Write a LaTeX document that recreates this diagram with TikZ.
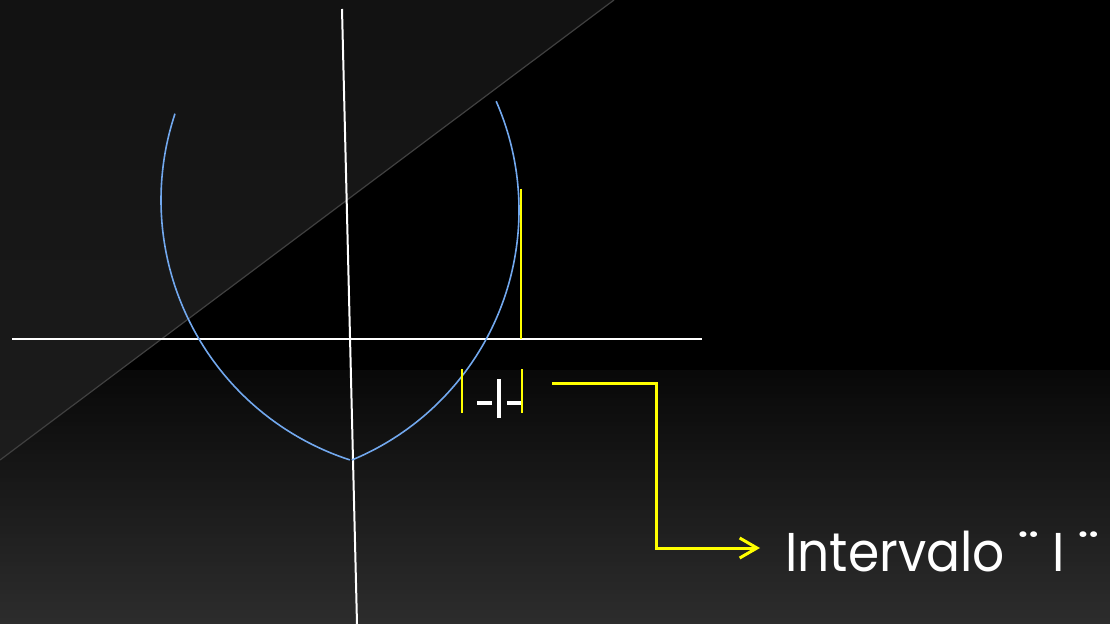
\documentclass[tikz,border=0pt]{standalone}
\usepackage{fontspec}
\setmainfont{Poppins}
\usetikzlibrary{arrows.meta}
\definecolor{curveblue}{HTML}{72A8EE}
\definecolor{ylw}{HTML}{FFFF00}
\definecolor{edge}{HTML}{404040}
\definecolor{bandc}{RGB}{0,0,0}
\newcommand{\widedia}{\scalebox{1.3}[1]{¨}}
\tikzset{
  px/.style={line width=#1*0.75pt},
  label/.style={white, font=\fontsize{41}{48}\selectfont, inner sep=0pt, anchor=base west},
}
\begin{document}
\begin{tikzpicture}[x=0.75pt,y=-0.75pt]
% background
\useasboundingbox (0,0) rectangle (1110,624);
\fill[black] (0,0) rectangle (1110,624);
\foreach \i in {0,...,63}{
  \pgfmathtruncatemacro{\g}{9+36*\i/63}
  \definecolor{bandc}{RGB}{\g,\g,\g}
  \fill[bandc] (0,370+4*\i) rectangle (1110,374.5+4*\i);
}
\begin{scope}
\clip (0,0) -- (614,0) -- (0,460) -- cycle;
\foreach \i in {0,...,46}{
  \pgfmathtruncatemacro{\g}{18+11*\i/46}
  \definecolor{bandc}{RGB}{\g,\g,\g}
  \fill[bandc] (0,10*\i) rectangle (614,10.5+10*\i);
}
\end{scope}
\draw[edge, px=1.2] (0,460) -- (614,0);
% axes
\coordinate (vtop) at (342,9);
\coordinate (vbot) at (357,624);
\coordinate (hl) at (12,339);
\coordinate (hr) at (702,339);
\draw[px=2, white] (vtop) -- (vbot);
\draw[px=2, white] (hl) -- (hr);
% curve (two circular arcs meeting at a cusp)
\draw[curveblue, px=1.6] plot[domain=198.4:108, samples=90, smooth] ({434.3+273.3*cos(\x)},{200+273.3*sin(\x)});
\draw[curveblue, px=1.6] plot[domain=-23.7:67.5, samples=90, smooth] ({248.4+270.6*cos(\x)},{210+270.6*sin(\x)});
% yellow vertical
\draw[ylw, px=2] (521,189) -- (521,339);
% interval marks
\draw[ylw, px=2] (462,369) -- (462,413);
\draw[ylw, px=2] (522,369) -- (522,413);
\draw[white, px=4] (477,403) -- (492,403);
\draw[white, px=4] (507,403) -- (521,403);
\draw[white, px=4] (499,379) -- (499,418);
% label and connector
\node[label] (lab) at (785,571) {\scalebox{0.92}[1]{Intervalo \widedia{} I \widedia}};
\coordinate (cs) at (552,383.5);
\coordinate (tip) at (760,548);
\draw[ylw, px=3, -{Straight Barb[length=13pt,width=15pt]}] (cs) -- (656.5,383.5) |- (tip);
\end{tikzpicture}
\end{document}
